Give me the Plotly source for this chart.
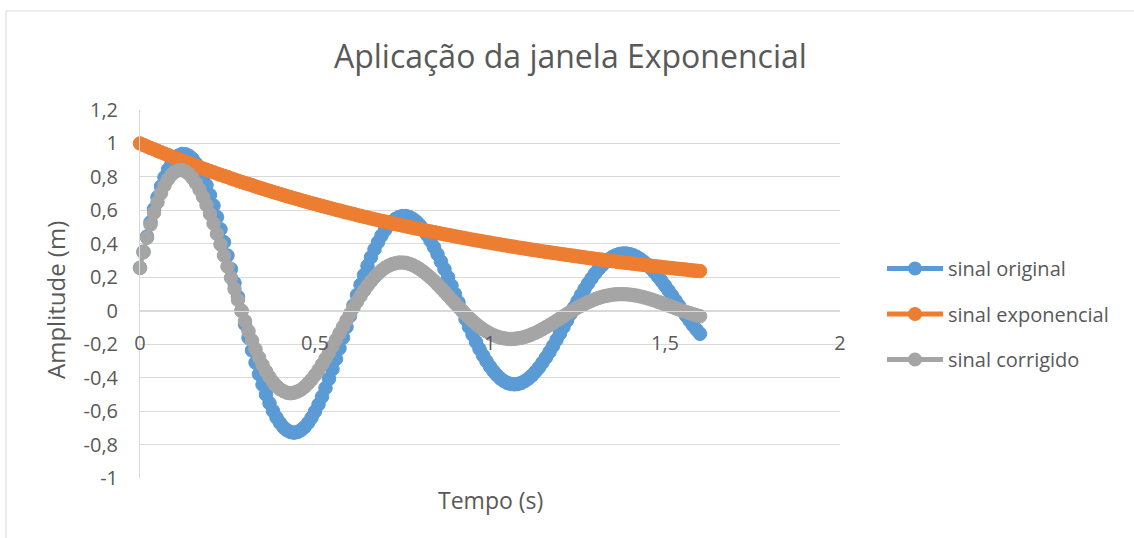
import plotly.graph_objects as go

# time axis (s), sampled every 0.01 s from 0 to 1.6
tempo = [round(0.01 * i, 2) for i in range(161)]

sinal_original = [
    0.256, 0.353, 0.444, 0.529, 0.608, 0.679, 0.743, 0.798, 0.844, 0.881,
    0.909, 0.928, 0.937, 0.936, 0.926, 0.908, 0.880, 0.844, 0.801, 0.750,
    0.692, 0.629, 0.560, 0.487, 0.410, 0.330, 0.249, 0.166, 0.083, 0.000,
    -0.081, -0.161, -0.237, -0.310, -0.379, -0.442, -0.501, -0.553, -0.599, -0.639,
    -0.671, -0.697, -0.715, -0.725, -0.729, -0.725, -0.714, -0.696, -0.671, -0.640,
    -0.603, -0.561, -0.514, -0.462, -0.407, -0.349, -0.288, -0.225, -0.161, -0.097,
    -0.032, 0.032, 0.094, 0.155, 0.213, 0.268, 0.320, 0.367, 0.410, 0.449,
    0.482, 0.510, 0.532, 0.549, 0.560, 0.566, 0.566, 0.560, 0.548, 0.532,
    0.510, 0.484, 0.453, 0.418, 0.380, 0.338, 0.294, 0.248, 0.200, 0.150,
    0.100, 0.050, 0.000, -0.049, -0.097, -0.143, -0.187, -0.229, -0.267, -0.302,
    -0.334, -0.362, -0.386, -0.406, -0.421, -0.432, -0.438, -0.440, -0.438, -0.431,
    -0.420, -0.405, -0.387, -0.364, -0.339, -0.310, -0.279, -0.246, -0.211, -0.174,
    -0.136, -0.097, -0.058, -0.019, 0.019, 0.057, 0.094, 0.129, 0.162, 0.193,
    0.222, 0.248, 0.271, 0.291, 0.308, 0.322, 0.332, 0.339, 0.342, 0.342,
    0.338, 0.331, 0.321, 0.308, 0.292, 0.274, 0.253, 0.229, 0.204, 0.178,
    0.150, 0.121, 0.091, 0.061, 0.030, 0.000, -0.030, -0.059, -0.087, -0.113,
    -0.138,
]

sinal_exponencial = [
    1.000, 0.991, 0.982, 0.973, 0.965, 0.956, 0.947, 0.939, 0.931, 0.922,
    0.914, 0.906, 0.898, 0.890, 0.882, 0.874, 0.866, 0.858, 0.850, 0.843,
    0.835, 0.828, 0.820, 0.813, 0.806, 0.799, 0.791, 0.784, 0.777, 0.770,
    0.763, 0.757, 0.750, 0.743, 0.736, 0.730, 0.723, 0.717, 0.710, 0.704,
    0.698, 0.691, 0.685, 0.679, 0.673, 0.667, 0.661, 0.655, 0.649, 0.643,
    0.638, 0.632, 0.626, 0.621, 0.615, 0.610, 0.604, 0.599, 0.593, 0.588,
    0.583, 0.578, 0.572, 0.567, 0.562, 0.557, 0.552, 0.547, 0.542, 0.537,
    0.533, 0.528, 0.523, 0.518, 0.514, 0.509, 0.505, 0.500, 0.496, 0.491,
    0.487, 0.482, 0.478, 0.474, 0.470, 0.465, 0.461, 0.457, 0.453, 0.449,
    0.445, 0.441, 0.437, 0.433, 0.429, 0.425, 0.421, 0.418, 0.414, 0.410,
    0.407, 0.403, 0.399, 0.396, 0.392, 0.389, 0.385, 0.382, 0.378, 0.375,
    0.372, 0.368, 0.365, 0.362, 0.358, 0.355, 0.352, 0.349, 0.346, 0.343,
    0.340, 0.337, 0.334, 0.331, 0.328, 0.325, 0.322, 0.319, 0.316, 0.313,
    0.310, 0.308, 0.305, 0.302, 0.299, 0.297, 0.294, 0.291, 0.289, 0.286,
    0.284, 0.281, 0.279, 0.276, 0.274, 0.271, 0.269, 0.266, 0.264, 0.262,
    0.259, 0.257, 0.255, 0.252, 0.250, 0.248, 0.246, 0.243, 0.241, 0.239,
    0.237,
]

sinal_corrigido = [
    0.256, 0.349, 0.436, 0.515, 0.586, 0.649, 0.703, 0.749, 0.786, 0.813,
    0.831, 0.840, 0.841, 0.833, 0.817, 0.793, 0.762, 0.724, 0.681, 0.632,
    0.578, 0.521, 0.459, 0.396, 0.330, 0.264, 0.197, 0.130, 0.064, 0.000,
    -0.062, -0.122, -0.178, -0.230, -0.279, -0.323, -0.362, -0.397, -0.426, -0.450,
    -0.469, -0.481, -0.490, -0.493, -0.490, -0.483, -0.472, -0.456, -0.435, -0.412,
    -0.385, -0.355, -0.322, -0.287, -0.250, -0.213, -0.174, -0.135, -0.096, -0.057,
    -0.019, 0.018, 0.054, 0.088, 0.120, 0.149, 0.176, 0.201, 0.222, 0.241,
    0.257, 0.269, 0.278, 0.284, 0.288, 0.288, 0.286, 0.280, 0.272, 0.261,
    0.248, 0.233, 0.216, 0.198, 0.179, 0.157, 0.136, 0.113, 0.090, 0.067,
    0.045, 0.022, 0.000, -0.021, -0.042, -0.061, -0.079, -0.096, -0.111, -0.124,
    -0.136, -0.146, -0.154, -0.161, -0.165, -0.168, -0.169, -0.168, -0.165, -0.162,
    -0.156, -0.149, -0.141, -0.132, -0.121, -0.110, -0.098, -0.086, -0.073, -0.060,
    -0.046, -0.033, -0.019, -0.006, 0.006, 0.019, 0.030, 0.041, 0.051, 0.060,
    0.069, 0.076, 0.083, 0.088, 0.092, 0.096, 0.098, 0.099, 0.099, 0.098,
    0.096, 0.093, 0.090, 0.085, 0.080, 0.074, 0.068, 0.061, 0.054, 0.047,
    0.039, 0.031, 0.023, 0.015, 0.008, 0.000, -0.007, -0.014, -0.021, -0.027,
    -0.033,
]

series_names = ["sinal original", "sinal exponencial", "sinal corrigido"]
series_colors = ["#5B9BD5", "#ED7D31", "#A5A5A5"]

y_tick_vals = [-1, -0.8, -0.6, -0.4, -0.2, 0, 0.2, 0.4, 0.6, 0.8, 1, 1.2]
y_tick_text = ["-1", "-0,8", "-0,6", "-0,4", "-0,2", "0", "0,2", "0,4", "0,6", "0,8", "1", "1,2"]
x_tick_vals = [0, 0.5, 1, 1.5, 2]
x_tick_text = ["0", "0,5", "1", "1,5", "2"]

FONT = "Open Sans"
TXT = "#595959"
GRID = "#D9D9D9"

fig = go.Figure()
for name, ys, col in zip(series_names, [sinal_original, sinal_exponencial, sinal_corrigido], series_colors):
    fig.add_trace(go.Scatter(
        x=tempo, y=ys, name=name, mode="lines+markers",
        line=dict(color=col, width=3.5),
        marker=dict(color=col, size=13.5, line=dict(color=col, width=1)),
        cliponaxis=False, legendgroup=name,
    ))

W, H = 1134, 538
L, R, T, B = 140, 294, 110, 60
pw, ph = W - L - R, H - T - B

def px_x(p):
    return (p - L) / pw

def px_y(p):
    return (H - B - p) / ph

fig.update_layout(
    width=W, height=H,
    margin=dict(l=L, r=R, t=T, b=B, pad=0),
    paper_bgcolor="white", plot_bgcolor="white",
    font=dict(family=FONT, color=TXT, size=20),
    title=dict(text="Aplicação da janela Exponencial", x=0.503, xref="container",
               y=1 - 57 / H, yref="container", xanchor="center", yanchor="middle",
               font=dict(size=32, color=TXT, family=FONT)),
    xaxis=dict(range=[0, 2], tickvals=x_tick_vals, ticktext=x_tick_text,
               showgrid=False, zeroline=False, showline=True, linecolor=GRID, linewidth=1,
               anchor="free", position=1 / 2.2, ticks="", ticklabelstandoff=14,
               tickfont=dict(size=20, color=TXT)),
    yaxis=dict(range=[-1, 1.2], tickvals=y_tick_vals, ticktext=y_tick_text,
               showgrid=True, gridcolor=GRID, gridwidth=1, zeroline=False,
               showline=True, linecolor=GRID, linewidth=1, ticks="",
               ticklabelstandoff=17, tickfont=dict(size=20, color=TXT)),
    legend=dict(x=px_x(882), y=px_y(249), xanchor="left", yanchor="top",
                font=dict(size=20, color=TXT), itemwidth=56, tracegroupgap=16.5,
                itemsizing="constant", bgcolor="rgba(0,0,0,0)"),
    showlegend=True,
)

fig.add_annotation(text="Tempo (s)", xref="paper", yref="paper", x=px_x(490), y=px_y(500),
                   showarrow=False, xanchor="center", yanchor="middle",
                   font=dict(size=23, color=TXT, family=FONT))
fig.add_annotation(text="Amplitude (m)", xref="paper", yref="paper", x=px_x(55), y=px_y(300),
                   showarrow=False, xanchor="center", yanchor="middle", textangle=-90,
                   font=dict(size=24, color=TXT, family=FONT))
fig.add_shape(type="rect", xref="paper", yref="paper",
              x0=px_x(6), x1=px_x(1145), y0=px_y(560), y1=px_y(11),
              line=dict(color=GRID, width=1), fillcolor="rgba(0,0,0,0)", layer="below")

fig.write_html("out.html", config={"displayModeBar": False},
               post_script="document.body.style.margin='0px';")
